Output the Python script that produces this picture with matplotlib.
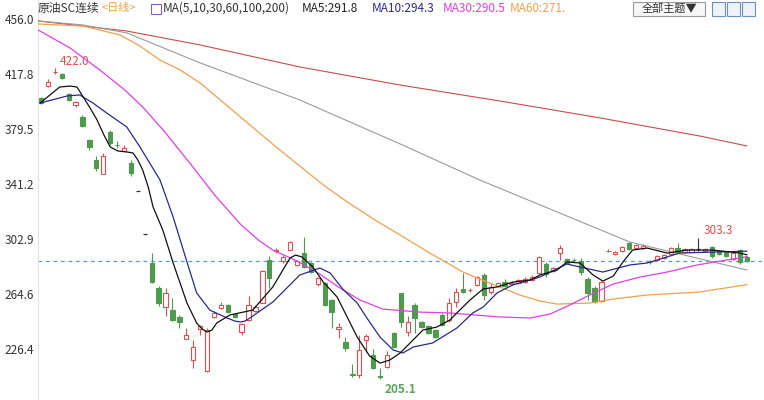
import matplotlib.pyplot as plt
import matplotlib.patches as mpatches
import numpy as np

plt.rcParams['font.family'] = ['Noto Sans CJK SC', 'DejaVu Sans']

# candle data (daily)
opens = [401.0, 409.3, 419.0, 417.7, 403.8, 396.0, 387.8, 371.7, 357.8, 348.1,
         377.3, 368.5, 364.1, 355.7, 336.2, 306.3, 286.1, 268.7, 255.4, 253.3,
         248.5, 233.2, 218.5, 240.1, 210.9, 248.5, 254.7, 256.8, 250.6, 238.0,
         246.4, 252.6, 258.2, 288.2, 294.4, 287.5, 295.1, 284.7, 293.0, 286.0,
         271.5, 272.2, 260.3, 240.1, 231.0, 208.5, 208.1, 232.5, 222.0, 207.2,
         213.6, 237.3, 265.2, 238.0, 256.8, 245.0, 242.2, 239.4, 249.9, 246.4,
         258.9, 268.0, 267.0, 270.8, 277.7, 265.9, 270.0, 272.8, 271.5, 272.2,
         272.8, 274.2, 279.1, 285.4, 280.5, 293.0, 288.9, 288.5, 287.5, 274.9,
         268.7, 259.6, 294.7, 292.3, 294.4, 300.0, 296.5, 296.5, 287.0, 288.2,
         289.6, 292.3, 296.5, 293.7, 294.0, 296.0, 294.4, 297.2, 294.4, 293.7,
         288.9, 295.1, 290.3]
closes = [397.5, 412.0, 419.3, 415.0, 399.6, 398.2, 381.5, 366.9, 352.2, 360.6,
          369.6, 368.0, 366.2, 348.8, 336.2, 306.3, 272.8, 258.2, 265.2, 246.4,
          245.0, 236.0, 227.6, 242.2, 239.4, 251.3, 256.8, 251.9, 248.5, 243.6,
          256.8, 255.4, 280.5, 275.6, 295.1, 290.3, 300.7, 287.5, 283.3, 279.8,
          275.6, 256.8, 251.9, 241.5, 226.9, 208.1, 225.5, 235.2, 213.0, 206.7,
          222.0, 227.6, 245.0, 245.0, 247.8, 241.5, 237.3, 234.5, 242.9, 258.2,
          265.9, 265.9, 267.5, 276.3, 263.8, 269.4, 272.2, 270.0, 272.5, 274.2,
          274.9, 276.3, 290.3, 278.4, 282.6, 296.5, 286.1, 288.2, 279.8, 265.2,
          258.9, 272.8, 294.4, 293.7, 297.2, 295.8, 298.6, 298.0, 286.8, 290.9,
          291.6, 296.5, 293.7, 296.0, 296.0, 296.0, 296.0, 291.0, 292.3, 291.0,
          293.0, 286.8, 287.7]
highs = [402.0, 414.0, 422.0, 418.5, 404.5, 399.0, 389.0, 372.5, 360.6, 362.7,
         378.5, 371.0, 368.5, 358.0, 336.2, 306.3, 293.0, 270.0, 268.7, 261.7,
         249.9, 240.8, 232.5, 243.0, 240.5, 252.6, 258.9, 257.5, 251.3, 244.3,
         263.0, 257.0, 281.0, 291.0, 296.5, 291.5, 301.5, 288.5, 304.2, 287.0,
         276.3, 273.0, 261.0, 244.3, 234.5, 215.7, 236.0, 236.5, 226.5, 213.0,
         225.0, 238.0, 265.5, 249.0, 258.2, 246.0, 243.0, 240.0, 251.0, 262.0,
         268.7, 279.1, 269.0, 277.0, 279.1, 272.2, 273.0, 275.0, 273.5, 275.0,
         276.3, 277.7, 290.9, 286.8, 283.3, 298.6, 289.6, 289.6, 289.6, 276.3,
         270.0, 273.5, 295.5, 294.4, 297.9, 300.7, 299.3, 299.0, 288.0, 291.6,
         292.3, 297.2, 300.0, 296.5, 296.5, 303.3, 296.5, 297.9, 295.0, 294.4,
         293.7, 295.8, 291.0]
lows = [397.0, 408.5, 417.5, 414.5, 399.0, 394.7, 381.0, 364.5, 350.2, 348.0,
        368.5, 366.5, 364.0, 346.5, 336.2, 306.3, 272.0, 256.0, 249.2, 246.0,
        240.8, 233.0, 213.0, 236.0, 210.5, 247.8, 254.0, 251.0, 247.8, 236.0,
        246.0, 251.9, 258.0, 268.7, 293.0, 286.0, 295.0, 284.0, 282.6, 279.0,
        270.0, 256.0, 240.8, 233.8, 224.8, 206.7, 206.0, 224.0, 212.5, 205.1,
        213.0, 227.0, 241.5, 235.2, 237.3, 240.5, 236.6, 233.8, 242.0, 245.0,
        255.4, 265.0, 266.0, 270.0, 260.3, 264.5, 269.4, 269.4, 270.8, 271.5,
        272.2, 273.5, 278.4, 276.3, 279.8, 288.2, 285.4, 287.0, 277.7, 260.3,
        258.2, 258.9, 293.5, 291.6, 293.7, 295.1, 296.0, 296.0, 285.5, 287.5,
        289.0, 291.6, 293.0, 293.0, 293.5, 294.5, 293.7, 289.6, 291.6, 290.3,
        288.2, 285.4, 287.0]

# moving averages (candle position, price)
ma5_x = [-0.1, 1.3, 2.7, 4.2, 5.2, 6.1, 7.1, 8.1, 9.1, 10.0, 11.1, 12.4, 13.3,
         14.0, 14.7, 15.5, 16.2, 17.6, 19.1, 21.1, 22.5, 23.3, 24.0, 24.7, 25.4,
         27.3, 30.6, 33.5, 36.0, 36.8, 37.7, 39.3, 40.8, 42.8, 45.7, 47.5, 49.0,
         50.4, 51.9, 55.2, 57.2, 59.1, 60.1, 62.0, 63.9, 65.9, 68.2, 70.7, 72.1,
         74.6, 76.0, 77.9, 79.8, 81.2, 82.7, 84.1, 85.5, 87.6, 90.5, 93.4, 97.1,
         101.0, 102.0]
ma5_y = [397.5, 403.1, 408.6, 409.3, 408.6, 401.7, 394.0, 385.7, 375.2, 366.9,
         364.1, 363.4, 362.7, 357.8, 350.8, 339.0, 325.1, 309.1, 286.1, 258.2,
         244.3, 240.1, 238.0, 239.4, 244.3, 249.9, 253.3, 269.4, 289.6, 291.6,
         290.3, 283.3, 272.8, 262.4, 234.5, 221.3, 216.4, 218.5, 223.4, 239.4,
         241.5, 246.4, 251.3, 260.3, 268.0, 269.4, 272.8, 274.2, 277.7, 281.2,
         286.8, 286.1, 277.7, 273.5, 277.0, 286.8, 295.1, 296.5, 293.0, 295.1,
         295.1, 293.0, 291.8]
ma10_x = [-0.1, 3.8, 5.6, 7.5, 9.5, 12.4, 14.3, 17.2, 19.1, 21.1, 22.5, 24.4,
          26.9, 28.0, 28.8, 29.5, 30.2, 33.5, 37.4, 40.3, 41.8, 43.6, 45.7, 47.1,
          49.0, 50.9, 52.3, 53.8, 56.6, 60.1, 62.4, 63.9, 65.9, 68.2, 72.1, 76.0,
          77.9, 81.2, 85.1, 87.6, 92.3, 97.1, 102.0]
ma10_y = [397.5, 402.4, 403.1, 397.5, 390.5, 380.8, 366.9, 343.9, 318.1, 286.8,
          265.2, 253.3, 247.8, 245.7, 245.0, 245.7, 247.8, 258.9, 277.7, 282.6,
          279.1, 268.0, 258.2, 247.8, 234.5, 225.5, 223.4, 227.6, 230.4, 240.8,
          251.3, 255.4, 265.2, 270.8, 276.3, 285.4, 283.3, 279.8, 284.7, 286.1,
          293.0, 293.7, 294.3]
ma30_x = [-0.4, 4.2, 8.5, 12.1, 14.7, 17.9, 21.5, 25.1, 28.8, 31.4, 33.5, 37.0,
          40.3, 43.2, 46.1, 49.4, 54.8, 59.1, 66.3, 70.7, 73.6, 76.4, 79.3, 82.7,
          86.6, 90.5, 94.8, 102.0]
ma30_y = [448.3, 435.8, 420.5, 406.6, 394.7, 377.3, 355.7, 333.4, 313.2, 302.1,
          295.1, 287.5, 278.4, 268.7, 260.3, 254.0, 251.9, 251.3, 248.5, 247.8,
          250.6, 256.8, 263.8, 271.5, 276.3, 279.8, 284.7, 290.5]
ma60_x = [-0.4, 2.7, 6.1, 8.5, 11.4, 14.3, 17.2, 20.1, 23.0, 26.6, 30.2, 33.8,
          37.4, 41.0, 44.7, 48.3, 51.9, 56.2, 61.0, 63.4, 66.3, 69.2, 72.1, 74.6,
          79.3, 82.7, 87.6, 95.2, 102.0]
ma60_y = [452.5, 451.8, 451.1, 448.3, 444.9, 437.2, 427.4, 420.5, 411.4, 396.8,
          382.2, 367.6, 353.6, 339.7, 327.2, 316.0, 305.6, 293.0, 279.8, 274.9,
          269.4, 263.8, 259.6, 257.5, 258.2, 261.0, 263.8, 265.9, 271.0]
ma100_x = [-0.4, 6.1, 12.4, 23.0, 37.4, 51.9, 63.4, 85.1, 102.0]
ma100_y = [454.6, 451.8, 446.3, 425.4, 399.6, 369.0, 343.9, 300.7, 281.2]
ma200_x = [-0.4, 12.4, 23.0, 37.4, 51.9, 66.3, 80.8, 95.2, 102.0]
ma200_y = [454.6, 447.6, 437.9, 422.6, 410.0, 398.9, 387.1, 374.5, 367.6]

ytick_vals = [456.0, 417.8, 379.5, 341.2, 302.9, 264.6, 226.4]
last_price = 287.6

RED = '#dc5050'
GREEN = '#4e9a4e'

fig = plt.figure(figsize=(7.64, 4.0), dpi=100)
ax = fig.add_axes([38 / 764, 0, 724 / 764, 1])

o = np.array(opens)
c = np.array(closes)
h = np.array(highs)
l = np.array(lows)
x = np.arange(len(c))
up = c > o
dn = c < o
fl = c == o
w = 0.62

# wicks first, bodies on top (hollow red bodies hide the wick)
ax.vlines(x[up], l[up], h[up], color=RED, lw=0.8, zorder=2)
ax.vlines(x[dn], l[dn], h[dn], color=GREEN, lw=0.8, zorder=2)
ax.vlines(x[fl], l[fl], h[fl], color='#333333', lw=0.8, zorder=2)
ax.bar(x[up], (c - o)[up], bottom=o[up], width=w, facecolor='white',
       edgecolor=RED, lw=0.8, zorder=3)
ax.bar(x[dn], (c - o)[dn], bottom=o[dn], width=w, facecolor=GREEN,
       edgecolor=GREEN, lw=0.8, zorder=3)
ax.hlines(c[fl], x[fl] - w / 2, x[fl] + w / 2, color='#333333', lw=0.9, zorder=3)

ax.plot(ma200_x, ma200_y, color='#c0504d', lw=0.8, zorder=4)
ax.plot(ma100_x, ma100_y, color='#9a9a9a', lw=0.8, zorder=4)
ax.plot(ma60_x, ma60_y, color='#f0a050', lw=0.9, zorder=4)
ax.plot(ma30_x, ma30_y, color='#e040e0', lw=0.9, zorder=4)
ax.plot(ma10_x, ma10_y, color='#2a2a8a', lw=0.9, zorder=4)
ax.plot(ma5_x, ma5_y, color='#111111', lw=0.9, zorder=5)

ax.axhline(last_price, color='#5b9bd5', lw=0.9, ls=(0, (3, 3)), zorder=1)

ax.text(2.7, 426.5, '422.0', color=RED, fontsize=8.5, va='center', ha='left')
ax.text(95.8, 308.4, '303.3', color=RED, fontsize=8.5, va='center', ha='left')
ax.text(49.7, 198.3, '205.1', color='#5aa55a', fontsize=8.5, va='center',
        ha='left', fontweight='bold')

ax.set_xlim(-0.43, 104.2)
ax.set_ylim(190.7, 469.2)
ax.set_xticks([])
ax.set_yticks(ytick_vals)
ax.set_yticklabels(['%.1f' % v for v in ytick_vals], fontsize=8.5, color='#333333')
ax.tick_params(axis='y', length=0, pad=3)
for s in ['top', 'right', 'bottom']:
    ax.spines[s].set_visible(False)
ax.spines['left'].set_color('#e2e2e2')

# top bar
ty = 1 - 8 / 400
fig.text(38 / 764, ty, '原油SC连续', fontsize=8.5, color='#333333', va='center')
fig.text(102 / 764, ty, '<日线>', fontsize=8, color='#f0a040', va='center')
fig.patches.append(mpatches.Rectangle((151 / 764, 1 - 14 / 400), 10 / 764, 10 / 400,
                                      transform=fig.transFigure, fill=False,
                                      edgecolor='#8060b0', lw=0.8))
fig.text(163 / 764, ty, 'MA(5,10,30,60,100,200)', fontsize=8.5, color='#333333', va='center')
fig.text(302 / 764, ty, 'MA5:291.8', fontsize=8.5, color='#222222', va='center')
fig.text(372 / 764, ty, 'MA10:294.3', fontsize=8.5, color='#2a2a8a', va='center')
fig.text(443 / 764, ty, 'MA30:290.5', fontsize=8.5, color='#e040e0', va='center')
fig.text(510 / 764, ty, 'MA60:271.', fontsize=8.5, color='#f0a050', va='center')

fig.patches.append(mpatches.Rectangle((633 / 764, 1 - 16 / 400), 72 / 764, 14 / 400,
                                      transform=fig.transFigure, facecolor='#f7f7f7',
                                      edgecolor='#9a9a9a', lw=0.8))
fig.text(669 / 764, ty, '全部主题▼', fontsize=8, color='#333333', va='center', ha='center')
for bx in [712, 727, 742]:
    fig.patches.append(mpatches.Rectangle((bx / 764, 1 - 16 / 400), 13 / 764, 14 / 400,
                                          transform=fig.transFigure, facecolor='#eef3fa',
                                          edgecolor='#6a8fc0', lw=0.8))

fig.savefig('out.png', dpi=100)
